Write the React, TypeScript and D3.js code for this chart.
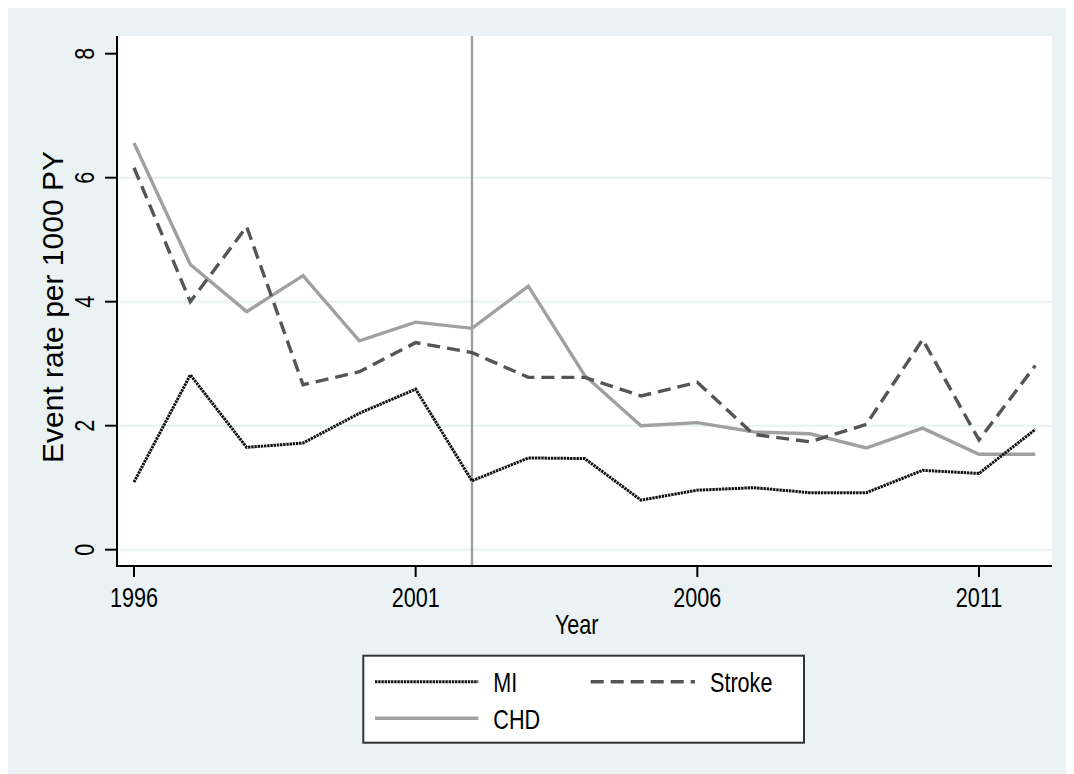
import React from "react";
import * as d3 from "d3";

// Annual event rates per 1000 person-years
const years = [1996, 1997, 1998, 1999, 2000, 2001, 2002, 2003, 2004, 2005, 2006, 2007, 2008, 2009, 2010, 2011, 2012];
const miRates = [1.09, 2.82, 1.65, 1.72, 2.2, 2.59, 1.11, 1.48, 1.47, 0.8, 0.96, 1.0, 0.92, 0.92, 1.28, 1.23, 1.94];
const strokeRates = [6.16, 4.0, 5.21, 2.66, 2.87, 3.34, 3.18, 2.78, 2.78, 2.48, 2.7, 1.86, 1.74, 2.02, 3.39, 1.77, 2.97];
const chdRates = [6.56, 4.6, 3.84, 4.42, 3.37, 3.67, 3.57, 4.25, 2.81, 2.0, 2.05, 1.9, 1.87, 1.64, 1.96, 1.54, 1.54];

const xTicks = [1996, 2001, 2006, 2011];
const yTicks = [0, 2, 4, 6, 8];
const gridValues = [0, 2, 4, 6];
const markerYear = 2002;

const W = 1066;
const H = 766;
const plot = { left: 109, right: 1044, top: 28, bottom: 558 };

const x = d3.scaleLinear().domain([1996, 2012]).range([126, 1027.3]);
const y = d3.scaleLinear().domain([0, 8]).range([541.7, 45.7]);

const FONT = "'Liberation Sans', Arial, sans-serif";

type Series = { name: string; values: number[]; color: string; width: number; dash?: string };

const series: Series[] = [
  { name: "CHD", values: chdRates, color: "#a0a0a0", width: 3.4 },
  { name: "Stroke", values: strokeRates, color: "#555555", width: 3.4, dash: "13,7" },
  { name: "MI", values: miRates, color: "#111111", width: 3, dash: "2.4,0.8" },
];

const line = d3
  .line<number>()
  .x((_, i) => x(years[i]))
  .y((d) => y(d));

function HText({ x: tx, y: ty, children, anchor = "start", size = 26 }: any) {
  return (
    <text
      transform={`translate(${tx},${ty}) scale(0.8,1)`}
      textAnchor={anchor}
      fontFamily={FONT}
      fontSize={size}
      fill="#000"
    >
      {children}
    </text>
  );
}

export default function App() {
  const mi = series[2];
  const st = series[1];
  const chd = series[0];
  return (
    <svg width={W} height={H} style={{ display: "block" }}>
      <rect x={0} y={0} width={W} height={H} fill="#eaf2f3" />
      <rect
        x={plot.left}
        y={plot.top}
        width={plot.right - plot.left}
        height={plot.bottom - plot.top}
        fill="#ffffff"
      />
      {gridValues.map((v) => (
        <line
          key={"g" + v}
          x1={plot.left}
          x2={plot.right}
          y1={y(v)}
          y2={y(v)}
          stroke="#eaf2f3"
          strokeWidth={2}
        />
      ))}
      <line
        x1={x(markerYear)}
        x2={x(markerYear)}
        y1={plot.top}
        y2={plot.bottom}
        stroke="#a0a0a0"
        strokeWidth={2.4}
      />
      {series.map((s) => (
        <path
          key={s.name}
          d={line(s.values) || ""}
          fill="none"
          stroke={s.color}
          strokeWidth={s.width}
          strokeDasharray={s.dash}
          strokeLinejoin="miter"
        />
      ))}
      {/* axes */}
      <line x1={plot.left} x2={plot.left} y1={plot.top} y2={plot.bottom + 1} stroke="#000" strokeWidth={2} />
      <line x1={plot.left} x2={plot.right} y1={plot.bottom} y2={plot.bottom} stroke="#000" strokeWidth={2} />
      {yTicks.map((v) => (
        <g key={"y" + v}>
          <line x1={97} x2={plot.left} y1={y(v)} y2={y(v)} stroke="#000" strokeWidth={2} />
          <text
            transform={`translate(86,${y(v)}) rotate(-90) scale(0.8,1)`}
            textAnchor="middle"
            fontFamily={FONT}
            fontSize={27}
            fill="#000"
          >
            {v}
          </text>
        </g>
      ))}
      {xTicks.map((v) => (
        <g key={"x" + v}>
          <line x1={x(v)} x2={x(v)} y1={plot.bottom} y2={569} stroke="#000" strokeWidth={2} />
          <HText x={x(v)} y={599} anchor="middle" size={27}>
            {v}
          </HText>
        </g>
      ))}
      <HText x={568.7} y={626} anchor="middle" size={27}>
        Year
      </HText>
      <text
        transform={`translate(55,299) rotate(-90)`}
        textAnchor="middle"
        fontFamily={FONT}
        fontSize={30}
        fill="#000"
      >
        Event rate per 1000 PY
      </text>
      {/* legend */}
      <rect x={355.3} y={647.7} width={440.7} height={87} fill="#ffffff" stroke="#333" strokeWidth={2} />
      <line x1={367} x2={470.3} y1={673.7} y2={673.7} stroke={mi.color} strokeWidth={mi.width} strokeDasharray={mi.dash} />
      <HText x={485.3} y={684} size={27}>MI</HText>
      <line x1={582.7} x2={687} y1={673.7} y2={673.7} stroke={st.color} strokeWidth={st.width} strokeDasharray={st.dash} />
      <HText x={702} y={684} size={27}>Stroke</HText>
      <line x1={367} x2={470.3} y1={710.3} y2={710.3} stroke={chd.color} strokeWidth={chd.width} />
      <HText x={485.3} y={721.3} size={27}>CHD</HText>
    </svg>
  );
}
